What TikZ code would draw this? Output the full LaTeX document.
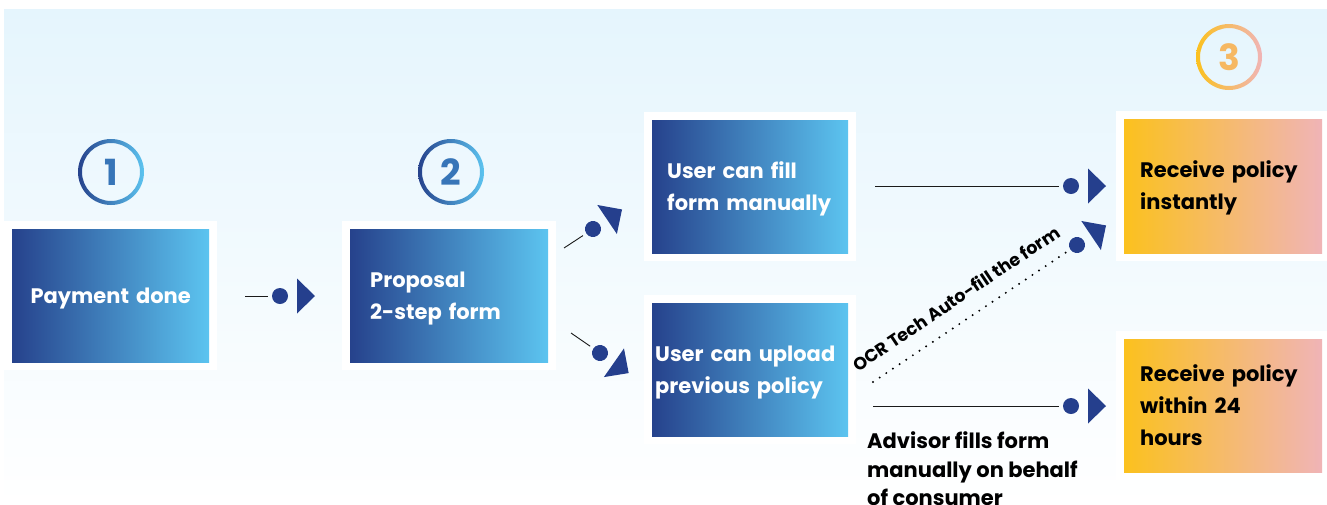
\documentclass[tikz,border=0pt]{standalone}
\usepackage{fontspec}
\setmainfont{Poppins}
\usetikzlibrary{calc}
\definecolor{bgtop}{HTML}{E5F5FD}
\definecolor{bl}{HTML}{26428C}
\definecolor{br}{HTML}{5CC4F0}
\definecolor{ol}{HTML}{FBC11E}
\definecolor{orr}{HTML}{F0B4B7}
\definecolor{dk}{HTML}{253F8D}
\definecolor{numblue}{HTML}{3775B8}
\definecolor{numorange}{HTML}{F6B862}
\definecolor{ink}{HTML}{1A1A1A}
\pgfdeclarelayer{frames}
\pgfsetlayers{frames,main}
\begin{document}
\begin{tikzpicture}[x=1pt,y=-1pt,
  boxbase/.style={rectangle, minimum height=133, inner ysep=0, align=left,
    text height=15.5pt, text depth=32pt,
    font=\fontsize{21}{32}\selectfont\bfseries},
  bluebox/.style={boxbase, left color=bl, right color=br, text=white},
  orangebox/.style={boxbase, left color=ol, right color=orr, text=black},
  stepnum/.style={circle, inner sep=0, font=\fontsize{36}{36}\selectfont\bfseries},
  ln/.style={draw=ink, line width=0.9pt, shorten >=12pt},
  dotln/.style={draw=black, line width=2.2pt, line cap=round, dash pattern=on 0pt off 8pt, shorten >=10pt},
  tipset/.pic={\fill[dk] (0,0) circle (8);
               \fill[dk] (17,-17.5) -- (35,0) -- (17,17.5) -- cycle;},
  lbl/.style={text=black, font=\fontsize{21}{28.5}\selectfont\bfseries, align=left, inner sep=0}
]
\useasboundingbox (0,0) rectangle (1327,504);

% boxes
\node[bluebox, anchor=north west, minimum width=197, inner xsep=10, text width=177, align=center, text depth=0pt] (pay) at (12,229) {Payment done};
\node[bluebox, anchor=north west, minimum width=198, inner xsep=20, text width=158] (prop) at (350,229) {Proposal\\2-step form};
\node[bluebox, anchor=north west, minimum width=196, inner xsep=15, text width=166] (fill) at (652,120) {User can fill\\form manually};
\node[bluebox, anchor=north west, minimum width=196, inner xsep=3, text width=190] (upl) at (652,303) {User can upload\\previous policy};
\node[orangebox, anchor=north west, minimum width=198, minimum height=134, inner xsep=16, text width=166] (inst) at (1124,119) {Receive policy\\instantly};
\node[orangebox, anchor=north west, minimum width=198, inner xsep=16, text width=166, text depth=64pt] (h24) at (1124,339) {Receive policy\\within 24\\hours};

% background and white frames
\begin{pgfonlayer}{frames}
  \shade[top color=bgtop, bottom color=white] (4,9) rectangle (1327,504);
  \foreach \n in {pay,prop,fill,upl,inst,h24}{
    \fill[white] ($(\n.north west)+(-8,-8)$) rectangle ($(\n.south east)+(8,8)$);
  }
\end{pgfonlayer}

% step numbers
\node[stepnum, text=numblue] (s1) at (111,172) {1};
\node[stepnum, text=numblue] (s2) at (451,172) {2};
\node[stepnum, text=numorange] (s3) at (1229,57) {3};
\shade[left color=bl, right color=br, even odd rule] (s1.center) circle (33) (s1.center) circle (29);
\shade[left color=bl, right color=br, even odd rule] (s2.center) circle (33) (s2.center) circle (29);
\shade[left color=ol, right color=orr, even odd rule] (s3.center) circle (33) (s3.center) circle (29);

% connectors
\coordinate (a1) at (245,296);  \coordinate (d1) at (280,296);
\coordinate (a2) at (564,248);  \coordinate (d2) at (593,229);
\coordinate (a3) at (571,333);  \coordinate (d3) at (600,353);
\coordinate (a4) at (875,186);  \coordinate (d4) at (1071,186);
\coordinate (a5) at (873,382);  \coordinate (d5) at (1077,245);
\coordinate (a6) at (873,406);  \coordinate (d6) at (1071,406);

\draw[ln] (a1) -- (d1);  \pic at (d1) {tipset};
\draw[ln] (a2) -- (d2);  \pic[rotate=34] at (d2) {tipset};
\draw[ln] (a3) -- (d3);  \pic[rotate=-35] at (d3) {tipset};
\draw[ln] (a4) -- (d4);  \pic at (d4) {tipset};
\draw[dotln] (a5) -- (d5) node[pos=0.47, sloped, above=15pt, text=black, inner sep=0,
   font=\fontsize{17.5}{17.5}\selectfont\bfseries] (ocr) {OCR Tech Auto-fill the form};
\pic[rotate=34] at (d5) {tipset};
\draw[ln] (a6) -- (d6);  \pic at (d6) {tipset};

\node[lbl, anchor=north west] (adv) at (867,431.5) {Advisor fills form\\manually on behalf\\of consumer};
\end{tikzpicture}
\end{document}
